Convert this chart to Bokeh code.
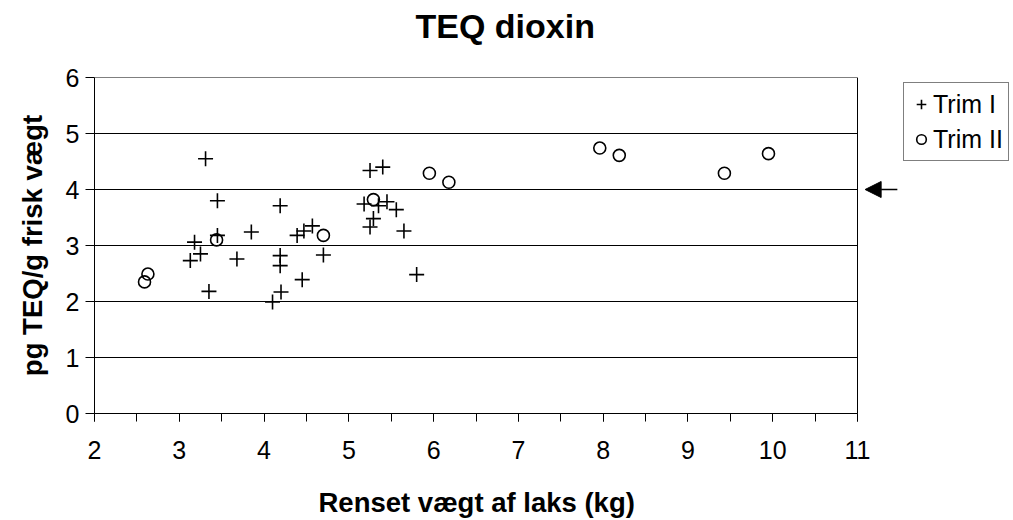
from bokeh.plotting import figure
from bokeh.models import (Range1d, SingleIntervalTicker, Legend, LegendItem,
                          Arrow, NormalHead, Span, Title)
from bokeh.embed import file_html
from bokeh.resources import INLINE

# ---- data ----
trim1_x = [3.31, 3.45, 4.19, 3.45, 3.18, 3.25, 3.13, 3.35, 3.85, 3.68,
           4.19, 4.19, 4.20, 4.10, 4.45, 4.39, 4.47, 4.57, 4.70, 5.25,
           5.40, 5.18, 5.35, 5.45, 5.56, 5.29, 5.25, 5.65, 5.80]
trim1_y = [4.55, 3.80, 3.71, 3.18, 3.06, 2.85, 2.73, 2.18, 3.24, 2.76,
           2.82, 2.64, 2.17, 1.99, 2.39, 3.18, 3.26, 3.35, 2.83, 4.34,
           4.40, 3.74, 3.71, 3.78, 3.64, 3.48, 3.33, 3.26, 2.48]
trim2_x = [2.63, 2.59, 3.44, 4.70, 5.29, 5.95, 6.18, 7.96, 8.19, 9.43, 9.95]
trim2_y = [2.49, 2.35, 3.10, 3.18, 3.82, 4.29, 4.13, 4.74, 4.61, 4.29, 4.64]
limit_value = 4.0
arrow_x = [11.47, 11.09]

x_min, x_max = 2, 11
y_ticks = [0, 1, 2, 3, 4, 5, 6]

title = "TEQ dioxin"
x_label = "Renset vægt af laks (kg)"
y_label = "pg TEQ/g frisk vægt"
series_names = ["Trim I", "Trim II"]

FONT = "Liberation Sans"

W, H = 1013, 520
LEFT, RIGHT_AX, TOP, BOTTOM = 94, 857, 77, 413
# the frame extends to the right canvas edge so the legend and arrow can sit there
x_end = x_min + (x_max - x_min) * (W - LEFT) / (RIGHT_AX - LEFT)

p = figure(width=W, height=H, output_backend="svg", toolbar_location=None,
           x_range=Range1d(x_min, x_end), y_range=Range1d(y_ticks[0], y_ticks[-1]),
           min_border_left=LEFT, min_border_right=0, min_border_top=TOP,
           min_border_bottom=H - BOTTOM, background_fill_color="white",
           border_fill_color="white", title=None)

# spacer (closest to frame) then the real title
p.add_layout(Title(text=" ", text_font=FONT, text_font_size="28px",
                   standoff=0, text_color="white"), "above")
p.add_layout(Title(text=title, align="left", offset=321, text_font=FONT,
                   text_font_size="34px", text_font_style="bold",
                   text_color="black", standoff=0), "above")

p.outline_line_color = None
p.xgrid.visible = False
p.ygrid.visible = False

# horizontal grid lines across the plot area only
p.segment(x0=x_min, x1=x_max, y0=y_ticks, y1=y_ticks, line_color="black",
          line_width=1)
p.add_layout(Span(location=x_max, dimension="height", line_color="black",
                  line_width=1))

p.xaxis.ticker = SingleIntervalTicker(interval=1, num_minor_ticks=2)
p.yaxis.ticker = SingleIntervalTicker(interval=1, num_minor_ticks=0)
p.xaxis.bounds = (x_min, x_max)
p.yaxis.bounds = (y_ticks[0], y_ticks[-1])
for ax in (p.xaxis, p.yaxis):
    ax.axis_line_color = "black"
    ax.major_tick_line_color = "black"
    ax.minor_tick_line_color = "black"
    ax.major_tick_in = 0
    ax.minor_tick_in = 0
    ax.major_label_text_font = FONT
    ax.major_label_text_font_size = "25px"
    ax.major_label_text_color = "black"
    ax.axis_label_text_font = FONT
    ax.axis_label_text_font_style = "bold"
    ax.axis_label_text_color = "black"
p.xaxis.major_tick_out = 8
p.xaxis.minor_tick_out = 8
p.xaxis.major_label_standoff = 19
# blank spacer label; the real x label is a below-title aligned to the axis
p.xaxis.axis_label = " "
p.xaxis.axis_label_text_font_size = "8px"
p.xaxis.axis_label_standoff = 11
p.yaxis.major_tick_out = 9
p.yaxis.minor_tick_out = 0
p.yaxis.major_label_standoff = 6
p.yaxis.axis_label_standoff = 15
p.yaxis.axis_label = y_label
p.yaxis.axis_label_text_font_size = "27.5px"

p.add_layout(Title(text=x_label, align="left", offset=224, text_font=FONT,
                   text_font_size="27.5px", text_font_style="bold",
                   text_color="black", standoff=0, vertical_align="bottom"),
             "below")

r1 = p.scatter(trim1_x, trim1_y, marker="cross", size=15, line_color="black",
               line_width=1.6)
r2 = p.scatter(trim2_x, trim2_y, marker="circle", size=12, line_color="black",
               line_width=1.6, fill_alpha=0)

legend = Legend(items=[LegendItem(label=series_names[0], renderers=[r1]),
                       LegendItem(label=series_names[1], renderers=[r2])],
                location=(809, 252), orientation="vertical",
                border_line_color="black", border_line_width=1,
                background_fill_color="white", background_fill_alpha=1,
                padding=5, spacing=3, glyph_width=24, glyph_height=32,
                label_height=32, label_standoff=0, margin=0,
                label_text_font=FONT, label_text_font_size="25px",
                label_text_color="black")
p.add_layout(legend, "center")

p.add_layout(Arrow(end=NormalHead(size=16, fill_color="black", line_color="black"),
                   x_start=arrow_x[0], y_start=limit_value,
                   x_end=arrow_x[1], y_end=limit_value,
                   line_color="black", line_width=1.6))

open("out.html", "w").write(file_html(p, INLINE))
